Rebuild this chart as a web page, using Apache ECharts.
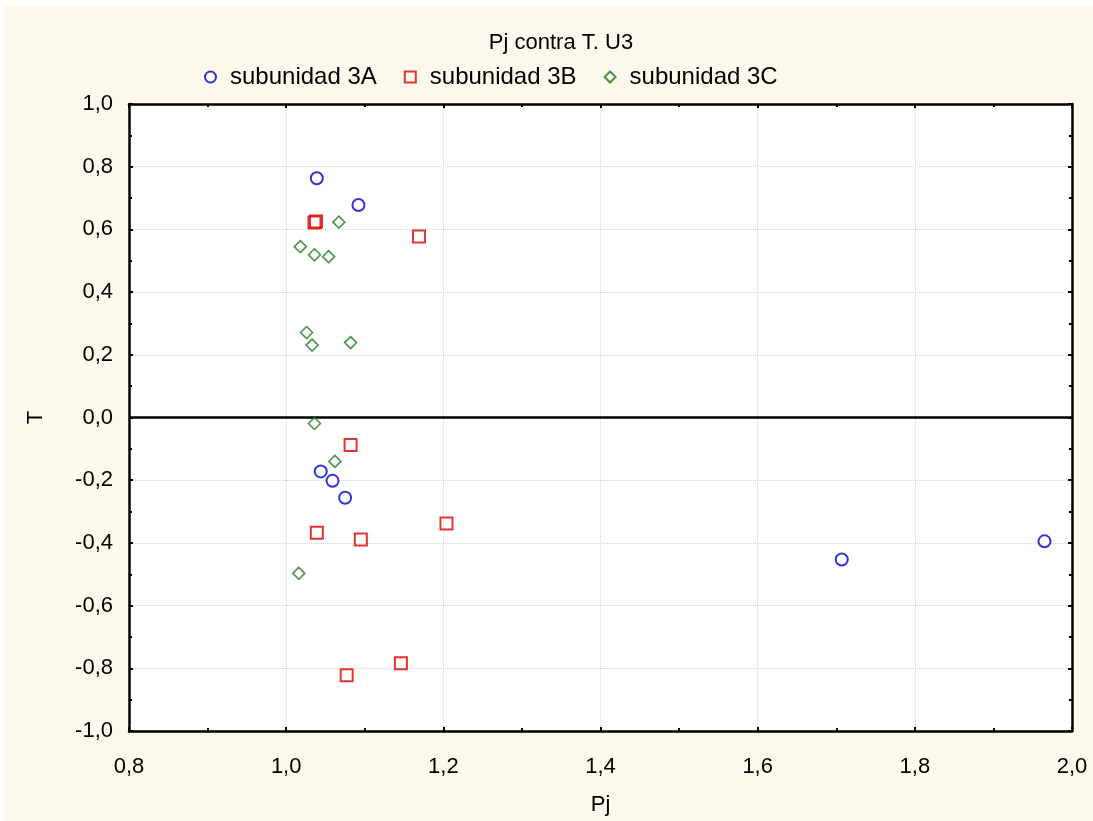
<!DOCTYPE html>
<html><head><meta charset="utf-8">
<script src="https://cdn.jsdelivr.net/npm/echarts@6/dist/echarts.min.js"></script>
<style>html,body{margin:0;padding:0;background:#fff;}#c{width:1093px;height:821px;}</style>
</head><body><div id="c"></div>
<script>
const seriesNames = ['subunidad 3A', 'subunidad 3B', 'subunidad 3C'];
const pj3A = [1.039, 1.092, 1.044, 1.059, 1.075, 1.707, 1.965];
const t3A  = [0.763, 0.678, -0.172, -0.202, -0.256, -0.453, -0.395];
const pj3B = [1.036, 1.038, 1.169, 1.082, 1.204, 1.039, 1.095, 1.146, 1.077];
const t3B  = [0.622, 0.625, 0.577, -0.088, -0.338, -0.368, -0.389, -0.784, -0.822];
const pj3C = [1.067, 1.018, 1.036, 1.054, 1.026, 1.033, 1.082, 1.036, 1.062, 1.016];
const t3C  = [0.623, 0.545, 0.519, 0.513, 0.271, 0.231, 0.239, -0.019, -0.140, -0.497];
const xTicks = [0.8, 1.0, 1.2, 1.4, 1.6, 1.8, 2.0];
const yTicks = [-1.0, -0.8, -0.6, -0.4, -0.2, 0.0, 0.2, 0.4, 0.6, 0.8, 1.0];

const zip = (a, b) => a.map((v, i) => [v, b[i]]);
const fmt = v => v.toFixed(1).replace('.', ',');
const font = 'Liberation Sans, Arial, sans-serif';
const diamond = 'path://M0,-1L1,0L0,1L-1,0Z';

const chart = echarts.init(document.getElementById('c'), null, {renderer: 'canvas'});
const baseX = {
  type: 'value', min: xTicks[0], max: xTicks[xTicks.length - 1], interval: 0.2,
  axisLine: {show: true, onZero: false, lineStyle: {color: '#000', width: 2.5}},
  axisTick: {show: true, inside: true, length: 4, lineStyle: {color: '#000', width: 2}},
  minorTick: {show: true, splitNumber: 2, length: 3, lineStyle: {color: '#000', width: 2}},
  splitLine: {show: false}
};
const baseY = {
  type: 'value', min: yTicks[0], max: yTicks[yTicks.length - 1], interval: 0.2,
  axisLine: {show: true, onZero: false, lineStyle: {color: '#000', width: 2.5}},
  axisTick: {show: true, inside: true, length: 4, lineStyle: {color: '#000', width: 2}},
  minorTick: {show: true, splitNumber: 2, length: 3, lineStyle: {color: '#000', width: 2}},
  splitLine: {show: false}
};
chart.setOption({
  backgroundColor: '#fff',
  animation: false,
  graphic: [{type: 'rect', z: -10, shape: {x: 4, y: 6, width: 1089, height: 815}, style: {fill: '#fdf8ec'}}],
  title: {text: 'Pj contra T. U3', left: 556, textAlign: 'center', top: 27,
    textStyle: {fontFamily: font, fontSize: 22, fontWeight: 'normal', color: '#000'}},
  legend: {top: 60, left: 199, itemWidth: 11, itemHeight: 11, itemGap: 27,
    textStyle: {fontFamily: font, fontSize: 24, color: '#000', padding: [0, 0, 0, 9]},
    data: seriesNames},
  grid: {left: 129, right: 21, top: 104, bottom: 90, outerBoundsMode: 'none', containLabel: false,
    show: true, backgroundColor: '#fff', borderColor: '#000', borderWidth: 0},
  xAxis: [
    Object.assign({}, baseX, {position: 'bottom', name: 'Pj', nameLocation: 'middle', nameGap: 63,
      nameTextStyle: {fontFamily: font, fontSize: 22, color: '#000'},
      axisLabel: {margin: 25, fontFamily: font, fontSize: 22, color: '#000', formatter: fmt},
      splitLine: {show: true, lineStyle: {color: '#d2d2d2', type: 'dotted', width: 1}}}),
    Object.assign({}, baseX, {position: 'top', axisLabel: {show: false}})
  ],
  yAxis: [
    Object.assign({}, baseY, {position: 'left', name: 'T', nameLocation: 'middle', nameGap: 82,
      nameTextStyle: {fontFamily: font, fontSize: 22, color: '#000'},
      axisLabel: {margin: 16, fontFamily: font, fontSize: 22, color: '#000', formatter: fmt},
      splitLine: {show: true, lineStyle: {color: '#d2d2d2', type: 'dotted', width: 1}}}),
    Object.assign({}, baseY, {position: 'right', axisLabel: {show: false}})
  ],
  series: [
    {name: seriesNames[0], type: 'scatter', data: zip(pj3A, t3A), symbol: 'emptyCircle', symbolSize: 12,
      itemStyle: {color: '#0000cc', borderColor: '#0000cc', borderWidth: 2}, z: 5,
      markLine: {silent: true, symbol: 'none', label: {show: false}, lineStyle: {color: '#000', width: 2.5, type: 'solid'},
        data: [{yAxis: 0}], z: 3}},
    {name: seriesNames[1], type: 'scatter', data: zip(pj3B, t3B), symbol: 'rect', symbolSize: 12,
      itemStyle: {color: 'rgba(0,0,0,0)', borderColor: '#dd0000', borderWidth: 2}, z: 5},
    {name: seriesNames[2], type: 'scatter', data: zip(pj3C, t3C), symbol: diamond, symbolSize: 12,
      itemStyle: {color: 'rgba(0,0,0,0)', borderColor: '#1e7a1e', borderWidth: 1.6}, z: 5}
  ]
});
</script></body></html>
